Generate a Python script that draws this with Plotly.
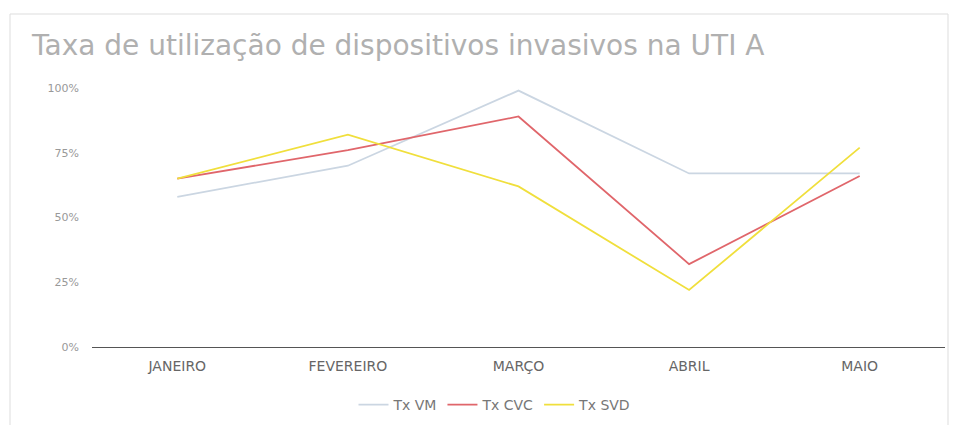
import plotly.graph_objects as go

months = ["JANEIRO", "FEVEREIRO", "MARÇO", "ABRIL", "MAIO"]
tx_vm = [58, 70, 99, 67, 67]
tx_cvc = [65, 76, 89, 32, 66]
tx_svd = [65, 82, 62, 22, 77]

y_ticks = [0, 25, 50, 75, 100]
y_labels = ["0%", "25%", "50%", "75%", "100%"]

series = [
    ("Tx VM", tx_vm, "#cbd6e2"),
    ("Tx CVC", tx_cvc, "#e0666b"),
    ("Tx SVD", tx_svd, "#f0df3c"),
]

# page body adds an 8px offset, so positions below are shifted by -8
W, H = 954, 417
L, T, R, B = 84, 80, 17, 78
pw, ph = W - L - R, H - T - B

fig = go.Figure()
for name, vals, color in series:
    fig.add_trace(
        go.Scatter(
            x=months,
            y=vals,
            name=name,
            mode="lines",
            line=dict(color=color, width=1.8),
        )
    )

fig.update_layout(
    width=W,
    height=H,
    margin=dict(l=L, r=R, t=T, b=B),
    plot_bgcolor="white",
    paper_bgcolor="white",
    font=dict(family="DejaVu Sans, Liberation Sans, Arial", color="#777"),
    title=dict(
        text="Taxa de utilização de dispositivos invasivos na UTI A",
        x=24 / W,
        xanchor="left",
        xref="container",
        y=1 - 37 / H,
        yanchor="middle",
        font=dict(size=28, color="#b0b0b0"),
    ),
    xaxis=dict(
        range=[-0.5, 4.5],
        showgrid=False,
        showline=False,
        zeroline=False,
        tickfont=dict(size=14, color="#666"),
        ticks="",
        ticklabelstandoff=9,
        automargin=False,
    ),
    yaxis=dict(
        range=[0, 100],
        tickvals=y_ticks,
        ticktext=y_labels,
        showgrid=False,
        zeroline=True,
        zerolinecolor="#555",
        zerolinewidth=1,
        tickfont=dict(size=11, color="#999"),
        ticklabelstandoff=12,
        automargin=False,
    ),
    legend=dict(
        orientation="h",
        x=487 / W,
        xanchor="center",
        xref="container",
        y=1 - 397 / H,
        yanchor="middle",
        yref="container",
        itemwidth=30,
        font=dict(size=14, color="#777"),
    ),
    shapes=[
        dict(
            type="rect",
            xref="paper",
            yref="paper",
            x0=(2 - L) / pw,
            x1=(940 - L) / pw,
            y0=-0.4,
            y1=(ph + T - 6) / ph,
            line=dict(color="#dddddd", width=1),
        )
    ],
)

fig.write_html("out.html")
